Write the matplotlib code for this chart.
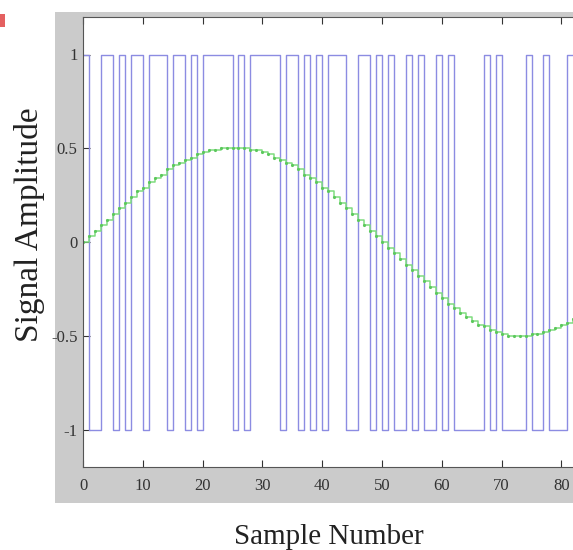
import numpy as np
import matplotlib
matplotlib.use("Agg")
import matplotlib.pyplot as plt
from matplotlib.patches import Rectangle

plt.rcParams['axes.unicode_minus'] = False
plt.rcParams['font.family'] = ['Liberation Serif', 'DejaVu Serif']

# ---- data ----
# comparator / modulator output, one level per sample (samples 0..81)
pwm_levels = [1, -1, -1, 1, 1, -1, 1, -1, 1, 1,
              -1, 1, 1, 1, -1, 1, 1, -1, 1, -1,
              1, 1, 1, 1, 1, -1, 1, -1, 1, 1,
              1, 1, 1, -1, 1, 1, -1, 1, -1, 1,
              -1, 1, 1, 1, -1, -1, 1, 1, -1, 1,
              -1, 1, -1, -1, 1, -1, 1, -1, -1, 1,
              -1, 1, -1, -1, -1, -1, -1, 1, -1, 1,
              -1, -1, -1, -1, 1, -1, -1, 1, -1, -1,
              -1, 1]
# sampled reference sine (samples 0..82)
sine_values = [0.00, 0.03, 0.06, 0.09, 0.12, 0.15, 0.18, 0.21, 0.24, 0.27,
               0.29, 0.32, 0.34, 0.36, 0.39, 0.41, 0.42, 0.44, 0.45, 0.47,
               0.48, 0.49, 0.49, 0.50, 0.50, 0.50, 0.50, 0.50, 0.49, 0.49,
               0.48, 0.47, 0.45, 0.44, 0.42, 0.41, 0.39, 0.36, 0.34, 0.32,
               0.29, 0.27, 0.24, 0.21, 0.18, 0.15, 0.12, 0.09, 0.06, 0.03,
               0.00, -0.03, -0.06, -0.09, -0.12, -0.15, -0.18, -0.21, -0.24, -0.27,
               -0.30, -0.33, -0.35, -0.38, -0.40, -0.42, -0.44, -0.45, -0.47, -0.48,
               -0.49, -0.50, -0.50, -0.50, -0.50, -0.49, -0.49, -0.48, -0.47, -0.46,
               -0.44, -0.43, -0.41]
x_ticks = [0, 10, 20, 30, 40, 50, 60, 70, 80]
y_ticks = [-1, -0.5, 0, 0.5, 1]
y_ticklabels = ['-1', '-0.5', '0', '0.5', '1']
x_label = 'Sample Number'
y_label = 'Signal Amplitude'

W, H = 573, 550
fig = plt.figure(figsize=(W / 100, H / 100), dpi=100)
fig.patch.set_facecolor('white')

def fx(px):
    return px / W

def fy(py):
    return 1 - py / H

# gray MATLAB-like figure panel
fig.patches.append(Rectangle((fx(55), fy(503)), fx(W) - fx(55), fy(12) - fy(503),
                             transform=fig.transFigure, facecolor='#cbcbcb',
                             edgecolor='none', zorder=-10))
# small red mark at top-left corner
fig.patches.append(Rectangle((fx(0), fy(27)), fx(5), fy(14) - fy(27),
                             transform=fig.transFigure, facecolor='#e46060',
                             edgecolor='none', zorder=-10))

ax_left, ax_top, ax_bottom = 83, 17, 467
ax = fig.add_axes([fx(ax_left), fy(ax_bottom), fx(W) - fx(ax_left), fy(ax_top) - fy(ax_bottom)])
ax.set_zorder(5)
ax.set_facecolor('white')

n_pwm = np.arange(len(pwm_levels) + 1)
ax.plot(n_pwm, list(pwm_levels) + [pwm_levels[-1]], drawstyle='steps-post',
        color='#8c8ce2', lw=1.0)
n_sin = np.arange(len(sine_values))
ax.plot(n_sin, sine_values, drawstyle='steps-post', color='#80dd80', lw=1.1)
ax.plot(n_sin, sine_values, ls='none', marker='.', ms=2.5, color='#5cc85c')

ax.set_xlim(0, (W - ax_left) / 5.98)
ax.set_ylim(-1.2, 1.2)
ax.set_xticks(x_ticks)
ax.set_xticklabels([str(t) for t in x_ticks])
ax.set_yticks(y_ticks)
ax.set_yticklabels(y_ticklabels)
ax.tick_params(direction='in', top=True, right=False, length=5, width=0.8,
               labelsize=12, colors='#333333', pad=8)
ax.tick_params(axis='y', pad=4)
for s in ['top', 'bottom', 'left']:
    ax.spines[s].set_color('#555555')
    ax.spines[s].set_linewidth(0.8)
ax.spines['right'].set_visible(False)

fig.text(fx(329), fy(537), x_label, ha='center', va='center', fontsize=21, color='#222222')
fig.text(fx(30), fy(225), y_label, ha='center', va='center', rotation=90, fontsize=24,
         color='#222222')

fig.savefig('out.png', dpi=100, facecolor='white')
